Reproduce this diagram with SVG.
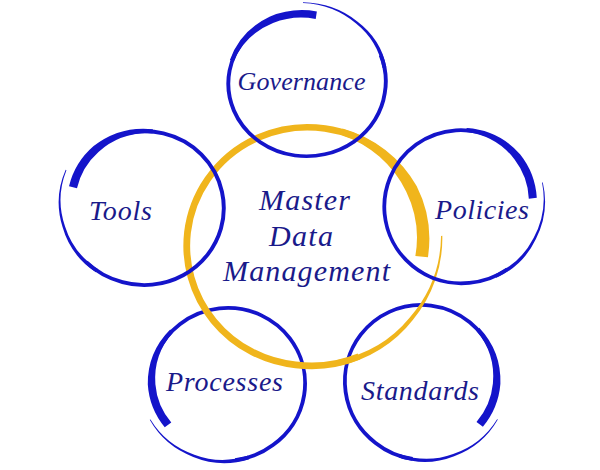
<svg xmlns="http://www.w3.org/2000/svg" width="600" height="470" viewBox="0 0 600 470">
<style>
.lbl{font-family:"Liberation Serif","DejaVu Serif",serif;font-style:italic;fill:#1a1a8a;text-anchor:middle}
.outer{font-size:28px}
.narrow{font-size:26px}
.core{font-size:30px}
.blue{color:#1414ca;stroke-width:3.8px}
.gold{color:#f0b51c;stroke-width:4.3px}
</style>
<defs>
<g id="brush">
<path d="M76,0 A77,77 0 0 1 64.10,44.88 A78,78 0 0 1 13.54,76.81 L12.85,72.88 A72,72 0 0 0 57.96,40.58 A69,69 0 0 0 68,0 Z" fill="currentColor"/>
<path d="M37.75,65.38 A76.5,76.5 0 0 1 -77,0 A77,77 0 0 1 0,-77.5 A78,78 0 0 1 39.25,-67.98" fill="none" stroke="currentColor"/>
<path d="M27.39,-75.27 A80,80 0 0 1 70.80,-40.88 A83,83 0 0 1 83.61,14.74 L82.82,14.60 A82,82 0 0 0 68.63,-39.63 A78,78 0 0 0 26.09,-71.70 Z" fill="currentColor"/>
</g>
</defs>
<rect width="600" height="470" fill="#ffffff"/>
<g id="processes">
<use href="#brush" class="blue" transform="translate(226.9,383.1) scale(1.011,0.988) rotate(144)"/>
<text class="lbl outer" x="224.5" y="391" textLength="117" lengthAdjust="spacing">Processes</text>
</g>
<g id="standards">
<use href="#brush" class="blue" transform="translate(422.2,381) rotate(37) scale(1,-1)"/>
<text class="lbl outer" x="420" y="400" textLength="118" lengthAdjust="spacing">Standards</text>
</g>
<g id="master-data-management">
<use href="#brush" class="gold" transform="translate(308.5,245) scale(1.58,1.555) rotate(6) scale(1,-1)"/>
</g>
<g id="governance">
<use href="#brush" class="blue" transform="translate(306,83) scale(1.026,0.951) rotate(-82) scale(1,-1)"/>
<text class="lbl narrow" x="301.5" y="90" textLength="128" lengthAdjust="spacing">Governance</text>
</g>
<g id="tools">
<use href="#brush" class="blue" transform="translate(144.5,207.2) scale(1.033,1.005) rotate(196)"/>
<text class="lbl outer" x="120.5" y="220" textLength="63" lengthAdjust="spacing">Tools</text>
</g>
<g id="policies">
<use href="#brush" class="blue" transform="translate(461.2,205.8) rotate(-6) scale(1,-1)"/>
<text class="lbl outer" x="482" y="219" textLength="94" lengthAdjust="spacing">Policies</text>
</g>
<g id="master-data-management-label">
<text class="lbl core" x="304.5" y="210" textLength="91" lengthAdjust="spacing">Master</text>
<text class="lbl core" x="301" y="246" textLength="64" lengthAdjust="spacing">Data</text>
<text class="lbl core" x="306.5" y="281" textLength="167" lengthAdjust="spacing">Management</text>
</g>
</svg>
